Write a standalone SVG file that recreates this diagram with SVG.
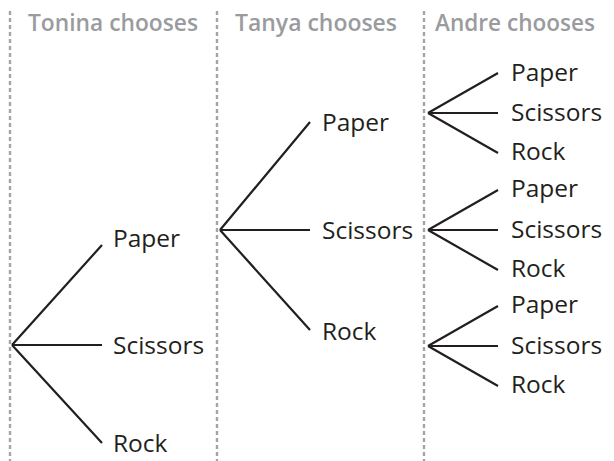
<svg xmlns="http://www.w3.org/2000/svg" width="614" height="461" viewBox="0 0 614 461">
<style>
.dash{stroke:#a3a4a6;stroke-width:2.4;stroke-dasharray:4 3;fill:none}
.hdr{font-family:"Open Sans","Noto Sans",sans-serif;font-weight:600;font-size:22.5px;fill:#9a9b9e}
.lbl{font-family:"Open Sans","Noto Sans",sans-serif;font-size:24.5px;fill:#231f20}
.br{stroke:#231f20;stroke-width:2.2;fill:none;stroke-linecap:butt}
</style>
<rect width="614" height="461" fill="#fff"/>
<g id="dividers">
<line class="dash" x1="10" y1="11" x2="10" y2="461"/>
<line class="dash" x1="217" y1="11" x2="217" y2="461"/>
<line class="dash" x1="424" y1="11" x2="424" y2="461"/>
</g>
<g id="headers">
<text class="hdr" x="28" y="31" textLength="170" lengthAdjust="spacingAndGlyphs">Tonina chooses</text>
<text class="hdr" x="235" y="31" textLength="162" lengthAdjust="spacingAndGlyphs">Tanya chooses</text>
<text class="hdr" x="435" y="31" textLength="160" lengthAdjust="spacingAndGlyphs">Andre chooses</text>
</g>
<g id="connectors">
<path class="br" d="M12,345 L102,245 M12,345 L102,345 M12,345 L102,443"/>
<path class="br" d="M220,230 L310,122 M220,230 L310,230 M220,230 L310,330"/>
<path class="br" d="M428,113 L498,73 M428,113 L498,113 M428,113 L498,153"/>
<path class="br" d="M428,230 L498,190 M428,230 L498,230 M428,230 L498,270"/>
<path class="br" d="M428,346 L498,306 M428,346 L498,346 M428,346 L498,386"/>
</g>
<g id="tonina">
<text class="lbl" x="113" y="247">Paper</text>
<text class="lbl" x="113" y="354">Scissors</text>
<text class="lbl" x="113" y="452">Rock</text>
</g>
<g id="tanya">
<text class="lbl" x="322" y="131">Paper</text>
<text class="lbl" x="322" y="239">Scissors</text>
<text class="lbl" x="322" y="340">Rock</text>
</g>
<g id="andre1">
<text class="lbl" x="511" y="81">Paper</text>
<text class="lbl" x="511" y="121">Scissors</text>
<text class="lbl" x="511" y="160">Rock</text>
</g>
<g id="andre2">
<text class="lbl" x="511" y="197">Paper</text>
<text class="lbl" x="511" y="238">Scissors</text>
<text class="lbl" x="511" y="277">Rock</text>
</g>
<g id="andre3">
<text class="lbl" x="511" y="313">Paper</text>
<text class="lbl" x="511" y="354">Scissors</text>
<text class="lbl" x="511" y="393">Rock</text>
</g>
</svg>
